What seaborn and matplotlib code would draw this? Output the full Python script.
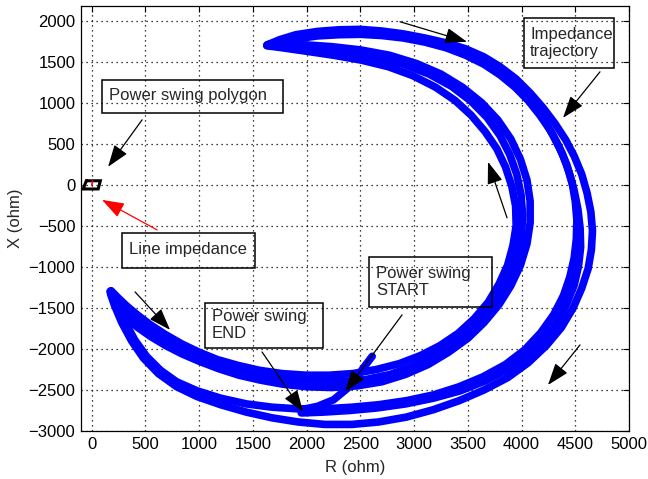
import numpy as np
import pandas as pd
import matplotlib
matplotlib.use("Agg")
import matplotlib.pyplot as plt
from matplotlib.patches import Rectangle
import seaborn as sns

# ---- impedance trajectory strands (R, X in ohm) ----
# inner band: lower-left turning point -> bottom -> right side (upwards) -> upper turning point
inner_a_r = [170, 200, 250, 330, 430, 550, 690, 840, 1000, 1180, 1370, 1570, 1780, 2000, 2230, 2470,
             2700, 2920, 3130, 3320, 3500, 3650, 3790, 3900, 3990, 4050, 4080, 4080, 4050, 3990,
             3900, 3780, 3630, 3450, 3250, 3020, 2770, 2500, 2230, 1950, 1700, 1640]
inner_a_x = [-1300, -1400, -1510, -1630, -1740, -1850, -1960, -2060, -2150, -2240, -2320, -2380, -2430, -2460, -2470, -2450,
             -2400, -2310, -2190, -2040, -1870, -1680, -1460, -1230, -980, -720, -460, -200, 60, 310,
             560, 790, 1000, 1190, 1350, 1480, 1580, 1645, 1685, 1710, 1715, 1710]

inner_c_r = [175, 220, 290, 380, 490, 620, 770, 920, 1080, 1260, 1450, 1660, 1880, 2100, 2330, 2560,
             2780, 2990, 3190, 3370, 3530, 3670, 3790, 3890, 3960, 4000, 4010, 3995, 3955, 3890,
             3800, 3680, 3530, 3350, 3140, 2900, 2640, 2370, 2100, 1850, 1640]
inner_c_x = [-1295, -1380, -1490, -1600, -1710, -1830, -1950, -2050, -2140, -2220, -2290, -2340, -2380, -2400, -2400, -2370,
             -2310, -2210, -2080, -1930, -1760, -1570, -1350, -1110, -870, -620, -370, -120, 130, 370,
             600, 820, 1020, 1200, 1350, 1470, 1560, 1620, 1660, 1690, 1700]

inner_b_r = [180, 240, 320, 420, 540, 680, 840, 1000, 1170, 1360, 1560, 1770, 1990, 2210, 2430, 2650,
             2860, 3060, 3240, 3410, 3560, 3690, 3790, 3870, 3920, 3950, 3945, 3910, 3850, 3770,
             3660, 3530, 3380, 3200, 2990, 2760, 2510, 2250, 1990, 1750, 1630]
inner_b_x = [-1290, -1370, -1470, -1580, -1700, -1820, -1940, -2040, -2130, -2200, -2260, -2300, -2320, -2320, -2300, -2250,
             -2180, -2080, -1960, -1810, -1630, -1430, -1210, -980, -740, -500, -260, -20, 220, 440,
             650, 850, 1030, 1190, 1330, 1440, 1520, 1580, 1630, 1675, 1695]

# outer band: upper turning point -> top -> right side (downwards) -> bottom -> lower-left turning point
outer_a_r = [1640, 1750, 1900, 2100, 2300, 2500, 2700, 2900, 3100, 3300, 3475, 3650, 3800, 3950, 4080,
             4200, 4310, 4410, 4490, 4560, 4610, 4645, 4660, 4650, 4620, 4560, 4480, 4370, 4230,
             4060, 3870, 3650, 3420, 3180, 2930, 2670, 2420, 2170, 1920, 1680, 1440, 1200, 980,
             790, 620, 480, 370, 280, 215, 175]
outer_a_x = [1710, 1770, 1830, 1870, 1890, 1895, 1875, 1840, 1790, 1730, 1660, 1560, 1440, 1290, 1120,
             940, 750, 550, 350, 130, -100, -330, -560, -790, -1020, -1260, -1500, -1740, -1960,
             -2170, -2350, -2500, -2630, -2740, -2830, -2890, -2920, -2920, -2890, -2840, -2770, -2680, -2580,
             -2460, -2300, -2110, -1900, -1680, -1480, -1330]

outer_b_r = [1630, 1750, 1900, 2100, 2300, 2500, 2700, 2900, 3100, 3300, 3480, 3650, 3800, 3940, 4060,
             4170, 4270, 4350, 4420, 4470, 4500, 4515, 4510, 4490, 4450, 4390, 4300, 4180, 4030,
             3850, 3640, 3420, 3180, 2930, 2670, 2420, 2170, 1920, 1680, 1440, 1200, 980, 790,
             640, 510, 400, 310, 235, 180]
outer_b_x = [1705, 1740, 1780, 1815, 1830, 1835, 1820, 1790, 1740, 1670, 1580, 1470, 1340, 1190, 1030,
             850, 660, 460, 250, 30, -200, -430, -660, -890, -1120, -1350, -1580, -1800, -2010,
             -2190, -2340, -2460, -2560, -2630, -2680, -2710, -2730, -2730, -2710, -2670, -2600, -2510, -2400,
             -2260, -2090, -1890, -1670, -1460, -1310]

# last pass, ending at the power swing END point
outer_c_r = [1630, 1800, 2000, 2200, 2400, 2600, 2800, 3000, 3200, 3400, 3580, 3740, 3880, 4000, 4110,
             4210, 4300, 4380, 4440, 4490, 4525, 4545, 4550, 4530, 4490, 4420, 4330, 4200, 4050,
             3870, 3660, 3430, 3180, 2920, 2650, 2400, 2150, 1950]
outer_c_x = [1700, 1765, 1810, 1840, 1850, 1850, 1830, 1795, 1740, 1665, 1565, 1445, 1305, 1150, 980,
             790, 590, 380, 160, -70, -300, -530, -760, -990, -1220, -1450, -1680, -1890, -2080,
             -2250, -2390, -2510, -2600, -2670, -2720, -2750, -2770, -2780]

# first samples after the power swing START point
start_r = [2610, 2540, 2470, 2380, 2250, 2100, 1950]
start_x = [-2090, -2210, -2340, -2480, -2620, -2700, -2740]

# power swing polygon and line impedance
poly_r = [-50, 80, 60, -80, -50]
poly_x = [50, 50, -50, -50, 50]
line_r = [0, 8]
line_x = [0, 45]

x_ticks = [0, 500, 1000, 1500, 2000, 2500, 3000, 3500, 4000, 4500, 5000]
y_ticks = [-3000, -2500, -2000, -1500, -1000, -500, 0, 500, 1000, 1500, 2000]

strands = {
    "inner_a": (inner_a_r, inner_a_x),
    "inner_c": (inner_c_r, inner_c_x),
    "inner_b": (inner_b_r, inner_b_x),
    "outer_a": (outer_a_r, outer_a_x),
    "outer_b": (outer_b_r, outer_b_x),
    "outer_c": (outer_c_r, outer_c_x),
    "start": (start_r, start_x),
}
frames = []
for name, (r, x) in strands.items():
    frames.append(pd.DataFrame({"R": r, "X": x, "strand": name}))
traj = pd.concat(frames, ignore_index=True)

sns.set_style("white")
plt.rcParams["font.family"] = ["Liberation Sans", "DejaVu Sans"]
plt.rcParams["font.size"] = 12

fig = plt.figure(figsize=(6.48, 4.79), dpi=100)
ax = fig.add_axes([81 / 648, 48 / 479, 548 / 648, 425 / 479])

sns.lineplot(data=traj, x="R", y="X", units="strand", estimator=None, sort=False,
             color="#0000ff", lw=5.5, legend=False, ax=ax,
             solid_joinstyle="round", solid_capstyle="round")

ax.plot(poly_r, poly_x, color="black", lw=2.2, solid_joinstyle="miter")
ax.plot(line_r, line_x, color="red", lw=1.2)

ax.set_xlim(-100, 5000)
ax.set_ylim(-3000, 2180)
ax.set_xticks(x_ticks)
ax.set_yticks(y_ticks)
ax.grid(True, linestyle=(0, (1, 3)), color="black", lw=0.9)
ax.set_axisbelow(True)
ax.tick_params(direction="in", length=4, width=0.8, top=True, right=True,
               labelsize=12, pad=4, colors="black")
for s in ax.spines.values():
    s.set_color("black")
    s.set_linewidth(0.9)
ax.set_xlabel("R (ohm)", fontsize=12, labelpad=6)
ax.set_ylabel("X (ohm)", fontsize=12, labelpad=4)


def text_box(x0, y0, x1, y1, tx, ty, label):
    ax.add_patch(Rectangle((x0, y0), x1 - x0, y1 - y0, fill=False,
                           edgecolor="black", lw=1.1, zorder=5))
    ax.text(tx, ty, label, ha="left", va="center", fontsize=12,
            linespacing=1.2, zorder=6)


text_box(96, 878, 1780, 1280, 165, 1085, "Power swing polygon")
text_box(281, -1012, 1521, -585, 345, -793, "Line impedance")
text_box(4022, 1427, 4860, 2037, 4080, 1732, "Impedance\ntrajectory")
text_box(2581, -1488, 3725, -878, 2646, -1183, "Power swing\nSTART")
text_box(1055, -1988, 2153, -1439, 1120, -1707, "Power swing\nEND")


def arrow(tail, head, color="black"):
    ax.annotate("", xy=head, xytext=tail, zorder=7,
                arrowprops=dict(arrowstyle="-|>,head_length=0.85,head_width=0.3",
                                color=color, lw=0.9, mutation_scale=16,
                                shrinkA=0, shrinkB=0))


arrow((469, 793), (152, 220))
arrow((608, -549), (96, -183), color="red")
arrow((4730, 1378), (4386, 817))
arrow((2869, 1988), (3492, 1744))
arrow((3865, -402), (3688, 280))
arrow((4544, -1951), (4246, -2439))
arrow((403, -1305), (729, -1768))
arrow((2888, -1585), (2357, -2524))
arrow((1585, -2037), (1967, -2768))

fig.savefig("out.png", dpi=100, facecolor="white")
